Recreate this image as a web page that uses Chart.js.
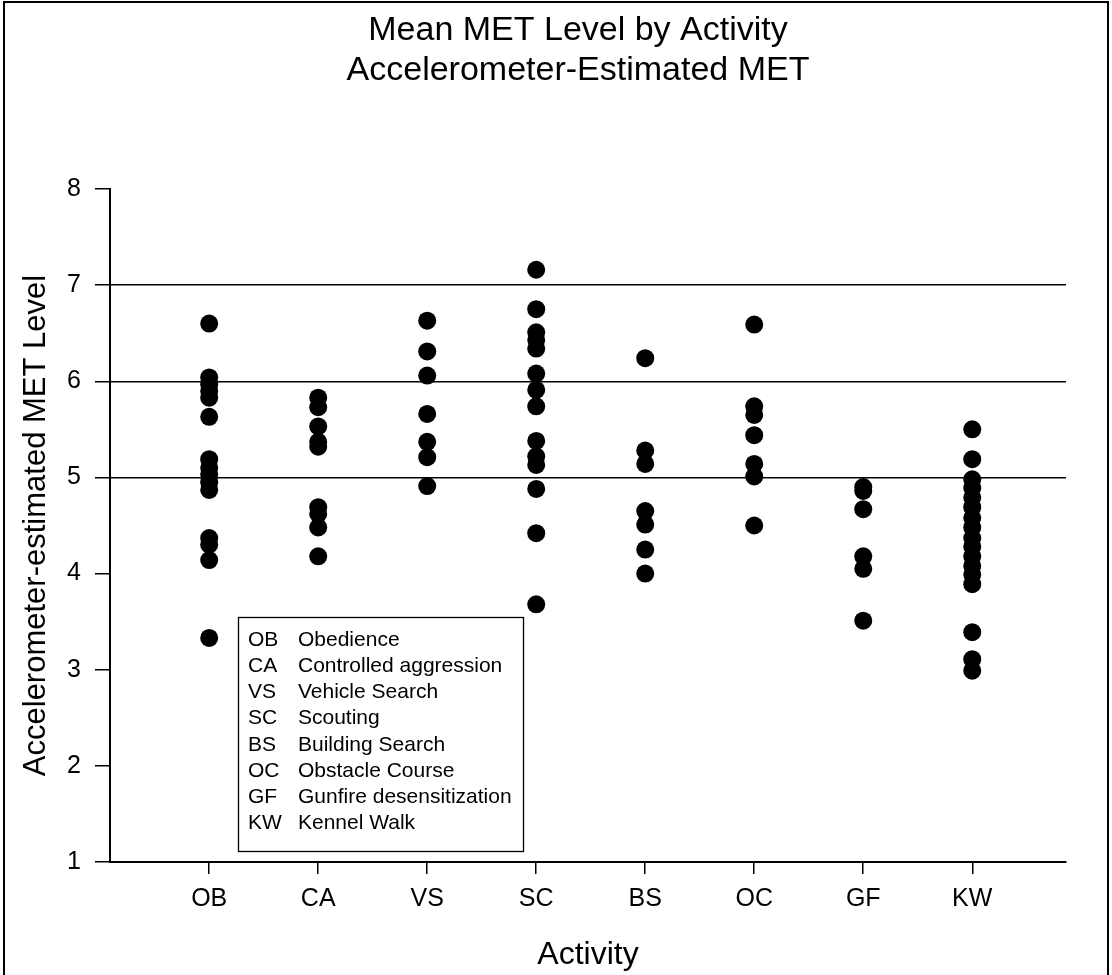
<!DOCTYPE html>
<html>
<head>
<meta charset="utf-8">
<script src="https://cdn.jsdelivr.net/npm/chart.js@4"></script>
<style>
  html, body { margin: 0; padding: 0; background: #fff; }
  #wrap { width: 1112px; height: 975px; position: relative; }
</style>
</head>
<body>
<div id="wrap"><canvas id="metChart"></canvas></div>
<script>
// categories + per-activity MET values
const CATEGORIES = ["OB", "CA", "VS", "SC", "BS", "OC", "GF", "KW"];
const LEGEND_NAMES = [
  "Obedience", "Controlled aggression", "Vehicle Search", "Scouting",
  "Building Search", "Obstacle Course", "Gunfire desensitization", "Kennel Walk"
];
const TITLE_LINES = ["Mean MET Level by Activity", "Accelerometer-Estimated MET"];
const Y_TICKS = [1, 2, 3, 4, 5, 6, 7, 8];
const REF_LINES = [5, 6, 7];

const OB = [6.60, 6.04, 5.97, 5.90, 5.83, 5.63, 5.19, 5.10, 5.03, 4.95, 4.87, 4.37, 4.30, 4.14, 3.33];
const CA = [5.83, 5.73, 5.53, 5.37, 5.32, 4.69, 4.62, 4.48, 4.18];
const VS = [6.63, 6.31, 6.06, 5.66, 5.37, 5.21, 4.91];
const SC = [7.16, 6.75, 6.51, 6.43, 6.34, 6.08, 5.91, 5.74, 5.38, 5.22, 5.13, 4.88, 4.42, 3.68];
const BS = [6.24, 5.28, 5.14, 4.65, 4.51, 4.25, 4.00];
const OC = [6.59, 5.74, 5.65, 5.44, 5.14, 5.01, 4.50];
const GF = [4.90, 4.86, 4.67, 4.18, 4.05, 3.51];
const KW = [5.50, 5.19, 4.98, 4.89, 4.79, 4.69, 4.58, 4.48, 4.37, 4.28, 4.18, 4.08, 3.99, 3.89, 3.39, 3.11, 2.99];

const SERIES = [OB, CA, VS, SC, BS, OC, GF, KW];
const FONT = "'Liberation Sans', Arial, Helvetica, sans-serif";

// flatten into scatter points, x = category index
const points = [];
SERIES.forEach((vals, i) => vals.forEach(v => points.push({ x: i, y: v })));

// white page, outer frame and the two-line title
const framePlugin = {
  id: "framePlugin",
  beforeDraw(chart) {
    const { ctx, width, height } = chart;
    ctx.save();
    ctx.fillStyle = "#fff";
    ctx.fillRect(0, 0, width, height);
    ctx.strokeStyle = "#000";
    ctx.lineWidth = 2;
    ctx.strokeRect(4, 2, width - 8, height + 10);

    ctx.fillStyle = "#000";
    ctx.font = `34px ${FONT}`;
    ctx.textAlign = "center";
    ctx.textBaseline = "middle";
    TITLE_LINES.forEach((line, i) => ctx.fillText(line, 578, 31 + i * 40));
    ctx.restore();
  }
};

// abbreviation key box inside the plot
const keyBoxPlugin = {
  id: "keyBoxPlugin",
  afterDraw(chart) {
    const { ctx } = chart;
    ctx.save();
    ctx.fillStyle = "#fff";
    ctx.fillRect(238, 617, 285, 234);
    ctx.strokeStyle = "#000";
    ctx.lineWidth = 1.3;
    ctx.strokeRect(238.5, 617.5, 285, 234);
    ctx.fillStyle = "#000";
    ctx.font = `21px ${FONT}`;
    ctx.textBaseline = "middle";
    ctx.textAlign = "left";
    CATEGORIES.forEach((c, i) => {
      const y = 640 + i * 26.2;
      ctx.fillText(c, 248, y);
      ctx.fillText(LEGEND_NAMES[i], 298, y);
    });
    ctx.restore();
  }
};

new Chart(document.getElementById("metChart"), {
  type: "scatter",
  data: {
    datasets: [{
      data: points,
      backgroundColor: "#000",
      borderWidth: 0,
      pointRadius: 9,
      pointHoverRadius: 9
    }]
  },
  plugins: [framePlugin, keyBoxPlugin],
  options: {
    responsive: true,
    maintainAspectRatio: false,
    animation: false,
    events: [],
    layout: { padding: { left: 0, top: 189, right: 46, bottom: 0 } },
    plugins: {
      legend: { display: false },
      tooltip: { enabled: false },
      title: { display: false }
    },
    scales: {
      x: {
        type: "linear",
        min: -0.91,
        max: 7.86,
        afterBuildTicks(scale) {
          scale.ticks = CATEGORIES.map((c, i) => ({ value: i }));
        },
        afterFit(scale) { scale.height = 113; },
        border: { display: true, color: "#000", width: 2 },
        grid: { drawOnChartArea: false, drawTicks: true, tickLength: 12, color: "#000", lineWidth: 1.5 },
        ticks: {
          color: "#000",
          padding: 10,
          maxRotation: 0,
          font: { family: FONT, size: 25 },
          callback: (v) => CATEGORIES[v]
        },
        title: {
          display: true,
          text: "Activity",
          color: "#000",
          font: { family: FONT, size: 32 },
          padding: { top: 0, bottom: 1 }
        }
      },
      y: {
        min: 1,
        max: 8,
        afterBuildTicks(scale) {
          scale.ticks = Y_TICKS.map(v => ({ value: v }));
        },
        afterFit(scale) { scale.width = 110; },
        border: { display: true, color: "#000", width: 2 },
        grid: {
          drawTicks: true,
          tickLength: 15,
          tickColor: "#000",
          lineWidth: 1.5,
          color: (ctx) => REF_LINES.includes(ctx.tick && ctx.tick.value) ? "#000" : "rgba(0,0,0,0)"
        },
        ticks: {
          color: "#000",
          padding: 14,
          font: { family: FONT, size: 25 }
        },
        title: {
          display: true,
          text: "Accelerometer-estimated MET Level",
          color: "#000",
          font: { family: FONT, size: 31 },
          padding: { top: 18, bottom: 0 }
        }
      }
    }
  }
});
</script>
</body>
</html>
